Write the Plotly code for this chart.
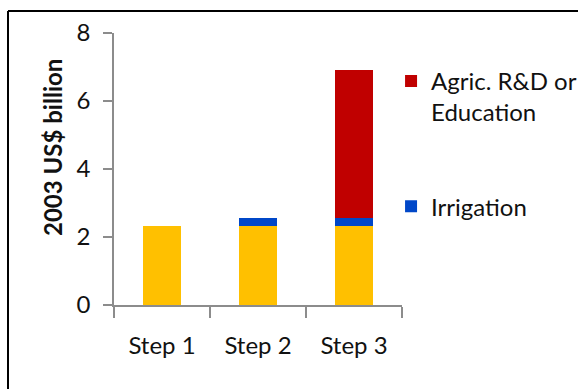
import plotly.graph_objects as go

categories = ["Step 1", "Step 2", "Step 3"]
base_values = [2.33, 2.33, 2.33]
irrigation = [0.0, 0.24, 0.24]
rnd_education = [0.0, 0.0, 4.34]
y_ticks = [0, 2, 4, 6, 8]
y_title = "2003 US$ billion"

FONT = "Lato, Open Sans, sans-serif"
TXT = "#111111"
AX = "#8c8c8c"

fig = go.Figure()
fig.add_trace(go.Bar(x=categories, y=base_values, marker_color="#FFC000",
                     showlegend=False, width=0.4, name="Base",
                     marker_line_width=0))
fig.add_trace(go.Bar(x=categories, y=irrigation, marker_color="#0047C8",
                     name="Irrigation", width=0.4, legendgroup="b", legendrank=2,
                     marker_line_width=0))
fig.add_trace(go.Bar(x=categories, y=rnd_education, marker_color="#C00000",
                     name="Agric. R&D or<br>Education", width=0.4, legendgroup="a",
                     legendrank=1, marker_line_width=0))

fig.update_layout(
    barmode="stack",
    width=580, height=389,
    margin=dict(l=114, r=178, t=33, b=84, autoexpand=False),
    plot_bgcolor="white", paper_bgcolor="white",
    font=dict(family=FONT, size=24, color=TXT),
    showlegend=True,
    legend=dict(x=0.962, y=0.905, xanchor="left", yanchor="top",
                traceorder="grouped", tracegroupgap=60,
                valign="top", font=dict(size=24, color=TXT),
                bgcolor="rgba(0,0,0,0)"),
    xaxis=dict(showline=True, linecolor=AX, linewidth=1.5, ticks="outside",
               tickson="boundaries", ticklen=11, tickcolor=AX, tickwidth=1.5,
               ticklabelstandoff=18, tickfont=dict(size=24, color=TXT),
               showgrid=False, zeroline=False, automargin=False),
    yaxis=dict(range=[0, 8], tickvals=y_ticks, showline=True, linecolor=AX,
               linewidth=1.5, ticks="outside", ticklen=9, tickcolor=AX,
               tickwidth=1.5, showgrid=False, zeroline=False, automargin=False,
               ticklabelstandoff=8,
               tickfont=dict(size=24, color=TXT)),
    annotations=[
        dict(text="<b>" + y_title + "</b>", textangle=-90, showarrow=False,
             xref="paper", yref="paper", x=(52 - 114) / 288, y=(305 - 148) / 272,
             xanchor="center", yanchor="middle",
             font=dict(size=24, color=TXT, family=FONT)),
    ],
    shapes=[
        dict(type="line", xref="paper", yref="paper",
             x0=(8 - 114) / 288, x1=(578 - 114) / 288,
             y0=(305 - 11) / 272, y1=(305 - 11) / 272,
             line=dict(color="black", width=2)),
        dict(type="line", xref="paper", yref="paper",
             x0=(8 - 114) / 288, x1=(8 - 114) / 288,
             y0=(305 - 11) / 272, y1=(305 - 400) / 272,
             line=dict(color="black", width=2)),
    ],
)

fig.write_html("out.html")
